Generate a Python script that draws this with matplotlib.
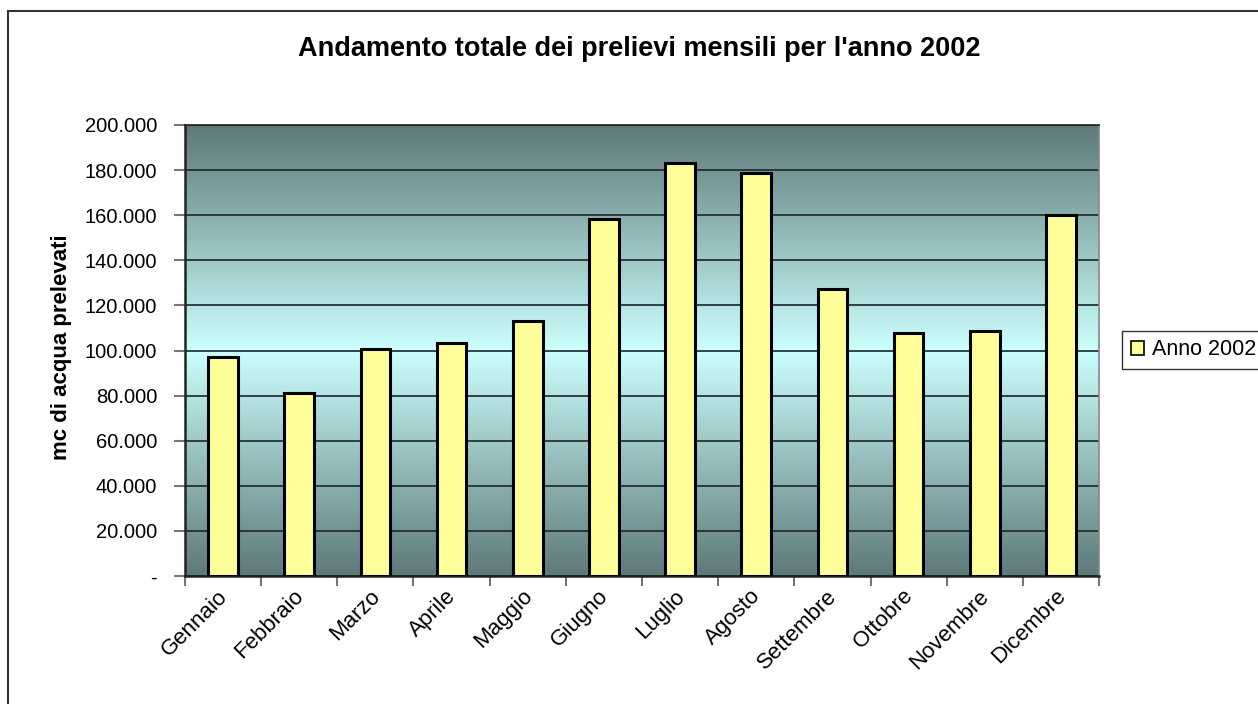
import numpy as np
import matplotlib
matplotlib.use('Agg')
import matplotlib.pyplot as plt
from matplotlib.colors import LinearSegmentedColormap
from matplotlib.ticker import FuncFormatter, FixedLocator
from matplotlib.lines import Line2D
from matplotlib.transforms import ScaledTranslation

plt.rcParams['font.family'] = ['Liberation Sans', 'DejaVu Sans']

# Dati: prelievi mensili (mc) per l'anno 2002
mesi = ['Gennaio', 'Febbraio', 'Marzo', 'Aprile', 'Maggio', 'Giugno',
        'Luglio', 'Agosto', 'Settembre', 'Ottobre', 'Novembre', 'Dicembre']
prelievi = [97200, 81300, 100800, 103300, 113200, 158300,
            183300, 178800, 127300, 107900, 108800, 160200]
serie = 'Anno 2002'
titolo = "Andamento totale dei prelievi mensili per l'anno 2002"
etichetta_y = 'mc di acqua prelevati'


def formato_y(v, pos):
    # formato contabile: zero come trattino, separatore migliaia punto
    if v == 0:
        return '-'
    return '{:,.0f}'.format(v).replace(',', '.')


fig = plt.figure(figsize=(12.58, 7.04), dpi=100)
ax = fig.add_axes([185 / 1258, 1 - 576 / 704, (1099 - 185) / 1258, (576 - 125) / 704])

# Sfondo sfumato (scuro - chiaro al centro - scuro)
cmap = LinearSegmentedColormap.from_list('sfondo', ['#5e7979', '#ccffff', '#5e7979'])
grad = np.linspace(0, 1, 256).reshape(-1, 1)
ax.imshow(grad, cmap=cmap, aspect='auto', extent=(0, 1, 0, 1),
          transform=ax.transAxes, zorder=0)

x = np.arange(len(mesi))
ax.bar(x, prelievi, width=0.39, color='#ffff99', edgecolor='black',
       linewidth=2.2, zorder=3, label=serie)

ax.set_xlim(-0.5, len(mesi) - 0.5)
ax.set_ylim(0, 200000)
ax.yaxis.set_major_locator(FixedLocator(np.arange(0, 200001, 20000)))
ax.yaxis.set_major_formatter(FuncFormatter(formato_y))
ax.grid(axis='y', color='#1c2626', linewidth=1.2, zorder=1)

ax.set_xticks(x)
ax.set_xticklabels(mesi, rotation=45, ha='right', va='top', rotation_mode='anchor')
ax.set_xticks(np.arange(-0.5, len(mesi)), minor=True)
ax.tick_params(axis='x', which='major', length=0, pad=7, labelsize=16)
ax.tick_params(axis='x', which='minor', length=7, color='#777777', width=1.5)
ax.tick_params(axis='y', length=8, color='#777777', width=1.5, labelsize=14.5, pad=12)

# piccolo spostamento a sinistra delle etichette dei mesi
sposta = ScaledTranslation(-6 / 100, 0, fig.dpi_scale_trans)
for lab in ax.get_xticklabels():
    lab.set_transform(lab.get_transform() + sposta)

for s in ['left', 'bottom']:
    ax.spines[s].set_color('#222222')
    ax.spines[s].set_linewidth(1.8)
ax.spines['top'].set_color('#222222')
ax.spines['top'].set_linewidth(1.2)
ax.spines['right'].set_color('#888888')
ax.spines['right'].set_linewidth(1.2)

fig.text(0.508, 0.931, titolo, ha='center', va='center',
         fontsize=19.5, fontweight='bold')
fig.text(0.049, 0.507, etichetta_y, ha='center', va='center', rotation=90,
         fontsize=16, fontweight='bold')

leg = ax.legend(loc='center left', bbox_to_anchor=(1122 / 1258, 1 - 350 / 704),
                bbox_transform=fig.transFigure, frameon=True, fancybox=False,
                fontsize=15.5, handlelength=0.6, handleheight=0.6,
                handletextpad=0.4, borderpad=0.4, borderaxespad=0)
leg.get_frame().set_edgecolor('black')
leg.get_frame().set_linewidth(1.0)
for h in leg.legend_handles:
    h.set_linewidth(1.2)

# Bordo esterno del grafico
fig.add_artist(Line2D([8 / 1258, 8 / 1258], [0, 1 - 11 / 704], color='#333333',
                      linewidth=1.5, transform=fig.transFigure))
fig.add_artist(Line2D([8 / 1258, 1], [1 - 11 / 704, 1 - 11 / 704], color='#333333',
                      linewidth=1.5, transform=fig.transFigure))

fig.savefig('out.png', dpi=100)
